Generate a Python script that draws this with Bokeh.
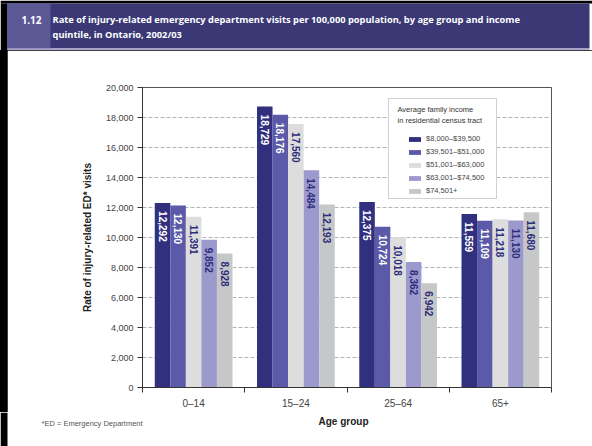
import math

from bokeh.core.properties import value
from bokeh.embed import file_html
from bokeh.layouts import column, row
from bokeh.models import (BoxAnnotation, ColumnDataSource, FixedTicker, Label,
                          Legend, LegendItem, NumeralTickFormatter, Range1d, Spacer)
from bokeh.plotting import figure
from bokeh.resources import INLINE

# ---- data -----------------------------------------------------------------
age_groups = ["0–14", "15–24", "25–64", "65+"]
income_quintiles = ["$8,000–$39,500", "$39,501–$51,000", "$51,001–$63,000",
                    "$63,001–$74,500", "$74,501+"]
q1_rate = [12292, 18729, 12375, 11559]
q2_rate = [12130, 18176, 10724, 11109]
q3_rate = [11391, 17560, 10018, 11218]
q4_rate = [9852, 14484, 8362, 11130]
q5_rate = [8928, 12193, 6942, 11680]
y_ticks = [0, 2000, 4000, 6000, 8000, 10000, 12000, 14000, 16000, 18000, 20000]

series = [q1_rate, q2_rate, q3_rate, q4_rate, q5_rate]
bar_colors = ["#30307f", "#5b5aa8", "#dddddd", "#9c99cc", "#c5c7c9"]
label_colors = ["#ffffff", "#ffffff", "#2c2c7a", "#2c2c7a", "#2c2c7a"]

# ---- page geometry (pixels, top-left origin) -------------------------------
W, H = 592, 446
EDGE = 7                      # black strip down the left side
HEAD_H = 50                   # heading band height
FOOT_H = 34                   # strip holding the x-axis title and footnote
FL, FR, FT, FB = 142, 551, 87, 387   # plot frame edges on the page
CHART_H = H - HEAD_H - FOOT_H

FONT = "Liberation Sans"


def sx(cx):
    """page x -> frame-relative screen x"""
    return cx - FL


def sy(cy):
    """page y -> frame-relative screen y (bottom-up)"""
    return FB - cy


def blank(width, height, x0, x1, y0, y1, fill="white"):
    """a plain figure whose frame fills it, addressed in page pixels"""
    f = figure(width=width, height=height, x_range=Range1d(x0, x1),
               y_range=Range1d(y1, y0), output_backend="svg",
               toolbar_location=None, min_border=0, outline_line_color=None,
               background_fill_color=fill, border_fill_color=fill)
    f.axis.visible = False
    f.grid.visible = False
    return f


# ---- heading band -----------------------------------------------------------
head = blank(W, HEAD_H, 0, W, 0, HEAD_H)
head.quad(left=[0, 0, EDGE, EDGE, EDGE], right=[W, EDGE, 589, 50, 589],
          top=[0, 3, 3, 3, 48], bottom=[3, HEAD_H, 48, 48, 50],
          fill_color=["black", "black", "#3a3976", "#5a5895", "#a9a7cf"],
          line_color=None)
head.text(x=[21], y=[19], text=["1.12"], text_font=value("Open Sans"),
          text_font_style="bold", text_font_size="10px", text_color="white",
          text_baseline="middle")
head.text(x=[52, 52], y=[19, 34],
          text=["Rate of injury-related emergency department visits per 100,000 "
                "population, by age group and income",
                "quintile, in Ontario, 2002/03"],
          text_font=value("Open Sans"), text_font_style="bold",
          text_font_size="9.3px", text_color="white", text_baseline="middle")

# ---- black strip down the left of the chart ----------------------------------
edge = Spacer(width=EDGE, height=CHART_H, styles={"background-color": "black"})

# ---- main chart -------------------------------------------------------------
p = figure(width=W - EDGE, height=CHART_H, x_range=Range1d(0, len(age_groups)),
           y_range=Range1d(0, 20000), output_backend="svg", toolbar_location=None,
           min_border_left=FL - EDGE, min_border_right=W - FR,
           min_border_top=FT - HEAD_H, min_border_bottom=HEAD_H + CHART_H - FB,
           background_fill_color="white", border_fill_color="white",
           outline_line_color="#555555", outline_line_width=1)

p.xgrid.visible = False
p.ygrid.grid_line_color = "#b5b5b5"
p.ygrid.grid_line_dash = "4 2"
p.ygrid.grid_line_width = 1

p.yaxis.ticker = FixedTicker(ticks=y_ticks)
p.yaxis.formatter = NumeralTickFormatter(format="0,0")
p.yaxis.axis_label = "Rate of injury-related ED* visits"
p.yaxis.axis_label_text_font = FONT
p.yaxis.axis_label_text_font_style = "bold"
p.yaxis.axis_label_text_font_size = "10px"
p.yaxis.axis_label_text_color = "#222222"
p.yaxis.axis_label_standoff = 10
p.yaxis.major_label_text_font = FONT
p.yaxis.major_label_text_font_size = "9px"
p.yaxis.major_label_text_color = "#444444"
p.yaxis.major_label_standoff = 4
p.yaxis.major_tick_out = 5
p.yaxis.major_tick_in = 0
p.yaxis.minor_tick_line_color = None
p.yaxis.axis_line_color = "#333333"
p.yaxis.major_tick_line_color = "#333333"

# group names centred, tick marks on the group boundaries
centres = [i + 0.5 for i in range(len(age_groups))]
bounds = list(range(len(age_groups) + 1))
p.xaxis.ticker = FixedTicker(ticks=centres, minor_ticks=bounds)
p.xaxis.major_label_overrides = {c: g for c, g in zip(centres, age_groups)}
p.xaxis.major_tick_line_color = None
p.xaxis.major_tick_out = 0
p.xaxis.major_tick_in = 0
p.xaxis.minor_tick_out = 5
p.xaxis.minor_tick_in = 0
p.xaxis.minor_tick_line_color = "#333333"
p.xaxis.axis_line_color = "#333333"
p.xaxis.major_label_standoff = 5
p.xaxis.major_label_text_font = FONT
p.xaxis.major_label_text_font_size = "10px"
p.xaxis.major_label_text_color = "#444444"

bar_w = 0.152
legend_items = []
for j, vals in enumerate(series):
    xs = [c + (j - 2) * bar_w for c in centres]
    src = ColumnDataSource(dict(x=xs, top=vals, label=[f"{v:,}" for v in vals]))
    r = p.vbar(x="x", top="top", width=bar_w, source=src,
               fill_color=bar_colors[j], line_color=None)
    p.text(x="x", y="top", text="label", source=src, angle=-math.pi / 2,
           text_align="left", text_baseline="middle", y_offset=8,
           text_font=value(FONT), text_font_style="bold", text_font_size="10px",
           text_color=label_colors[j])
    legend_items.append(LegendItem(label=income_quintiles[j], renderers=[r]))

# legend frame and its two-line heading
p.add_layout(BoxAnnotation(left=sx(388), right=sx(496), top=sy(98), bottom=sy(198),
                           left_units="screen", right_units="screen",
                           top_units="screen", bottom_units="screen",
                           fill_color="white", fill_alpha=1,
                           line_color="#666666", line_width=1))
for txt, cy in [("Average family income", 109), ("in residential census tract", 120)]:
    p.add_layout(Label(x=sx(397), y=sy(cy), x_units="screen", y_units="screen",
                       text=txt, text_font=FONT, text_font_size="7.5px",
                       text_color="#333333", text_baseline="middle"))

legend = Legend(items=legend_items, location=(sx(407), sy(195)),
                orientation="vertical", margin=0, padding=0, spacing=4,
                glyph_width=15, glyph_height=6, label_height=9, label_standoff=4,
                label_text_font=FONT, label_text_font_size="7.5px",
                label_text_color="#444444", border_line_color=None,
                background_fill_alpha=0)
p.add_layout(legend)

# ---- footer: x-axis title and footnote, full page width ---------------------
foot = blank(W, FOOT_H, 0, W, H - FOOT_H, H)
foot.quad(left=[0], right=[EDGE], top=[H - FOOT_H], bottom=[H],
          fill_color="black", line_color=None)
foot.text(x=[343], y=[421], text=["Age group"], text_font=value(FONT),
          text_font_style="bold", text_font_size="10px", text_color="#222222",
          text_align="center", text_baseline="middle")
foot.text(x=[41], y=[423], text=["*ED = Emergency Department"],
          text_font=value(FONT), text_font_size="7.5px", text_color="#555555",
          text_baseline="middle")

page = column(head, row(edge, p, spacing=0, styles={"background-color": "black"}),
              foot, spacing=0)

open("out.html", "w").write(file_html(page, INLINE))
